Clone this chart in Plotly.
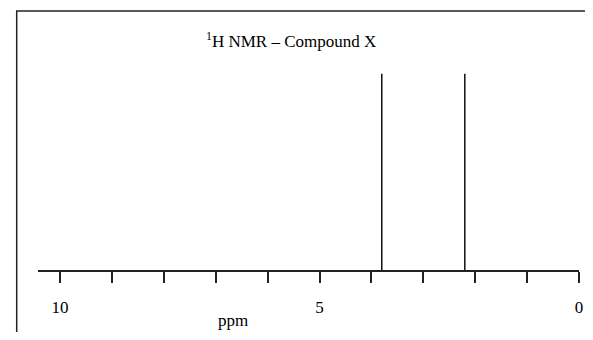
import plotly.graph_objects as go

# Data
peak_ppm = [3.8, 2.2]
peak_intensity = [1.0, 1.0]
tick_values = [10, 9, 8, 7, 6, 5, 4, 3, 2, 1, 0]
tick_labels = ["10", "", "", "", "", "5", "", "", "", "", "0"]
title_text = "<sup>1</sup>H NMR – Compound X"
x_title = "ppm"

OFF = 8  # page body margin
W, H = 593 - 2 * OFF, 340 - 2 * OFF
# plot area in page pixels: x 38..579, y 11..270
L = 38 - OFF
R = (OFF + W) - 579
T = 11 - OFF
B = (OFF + H) - 270
pw, ph = W - L - R, H - T - B

def px(x):
    return (x - OFF - L) / pw

def py(y):
    return (H - B - (y - OFF)) / ph

xs, ys = [], []
for p, v in zip(peak_ppm, peak_intensity):
    xs += [p, p, None]
    ys += [0, v, None]

fig = go.Figure()
fig.add_trace(go.Scatter(x=xs, y=ys, mode="lines",
                         line=dict(color="#111111", width=1.5),
                         hoverinfo="skip", showlegend=False))

font = dict(family="Liberation Serif", color="#000000")

fig.update_layout(
    width=W, height=H,
    margin=dict(l=L, r=R, t=T, b=B),
    paper_bgcolor="white", plot_bgcolor="white",
    showlegend=False,
    font=dict(**font, size=17),
    xaxis=dict(range=[10.424, 0], tickmode="array", tickvals=tick_values,
               ticktext=tick_labels, ticks="outside", ticklen=11,
               tickwidth=1.5, tickcolor="#222222", showline=True,
               linecolor="#222222", linewidth=1.5, showgrid=False,
               zeroline=False, ticklabelstandoff=10,
               tickfont=dict(**font, size=17)),
    yaxis=dict(range=[0, 1.32], visible=False, showgrid=False, zeroline=False),
    shapes=[
        dict(type="line", xref="paper", yref="paper", x0=px(16.7), x1=px(16.7),
             y0=py(11), y1=py(345), line=dict(color="#222222", width=1.5)),
        dict(type="line", xref="paper", yref="paper", x0=px(16), x1=px(600),
             y0=py(11), y1=py(11), line=dict(color="#222222", width=1.5)),
    ],
    annotations=[
        dict(text=title_text, xref="paper", yref="paper", x=px(291), y=py(40),
             xanchor="center", yanchor="middle", showarrow=False,
             font=dict(**font, size=17)),
        dict(text=x_title, xref="paper", yref="paper", x=px(233), y=py(320),
             xanchor="center", yanchor="middle", showarrow=False,
             font=dict(**font, size=17)),
    ],
)

fig.write_html("out.html")
